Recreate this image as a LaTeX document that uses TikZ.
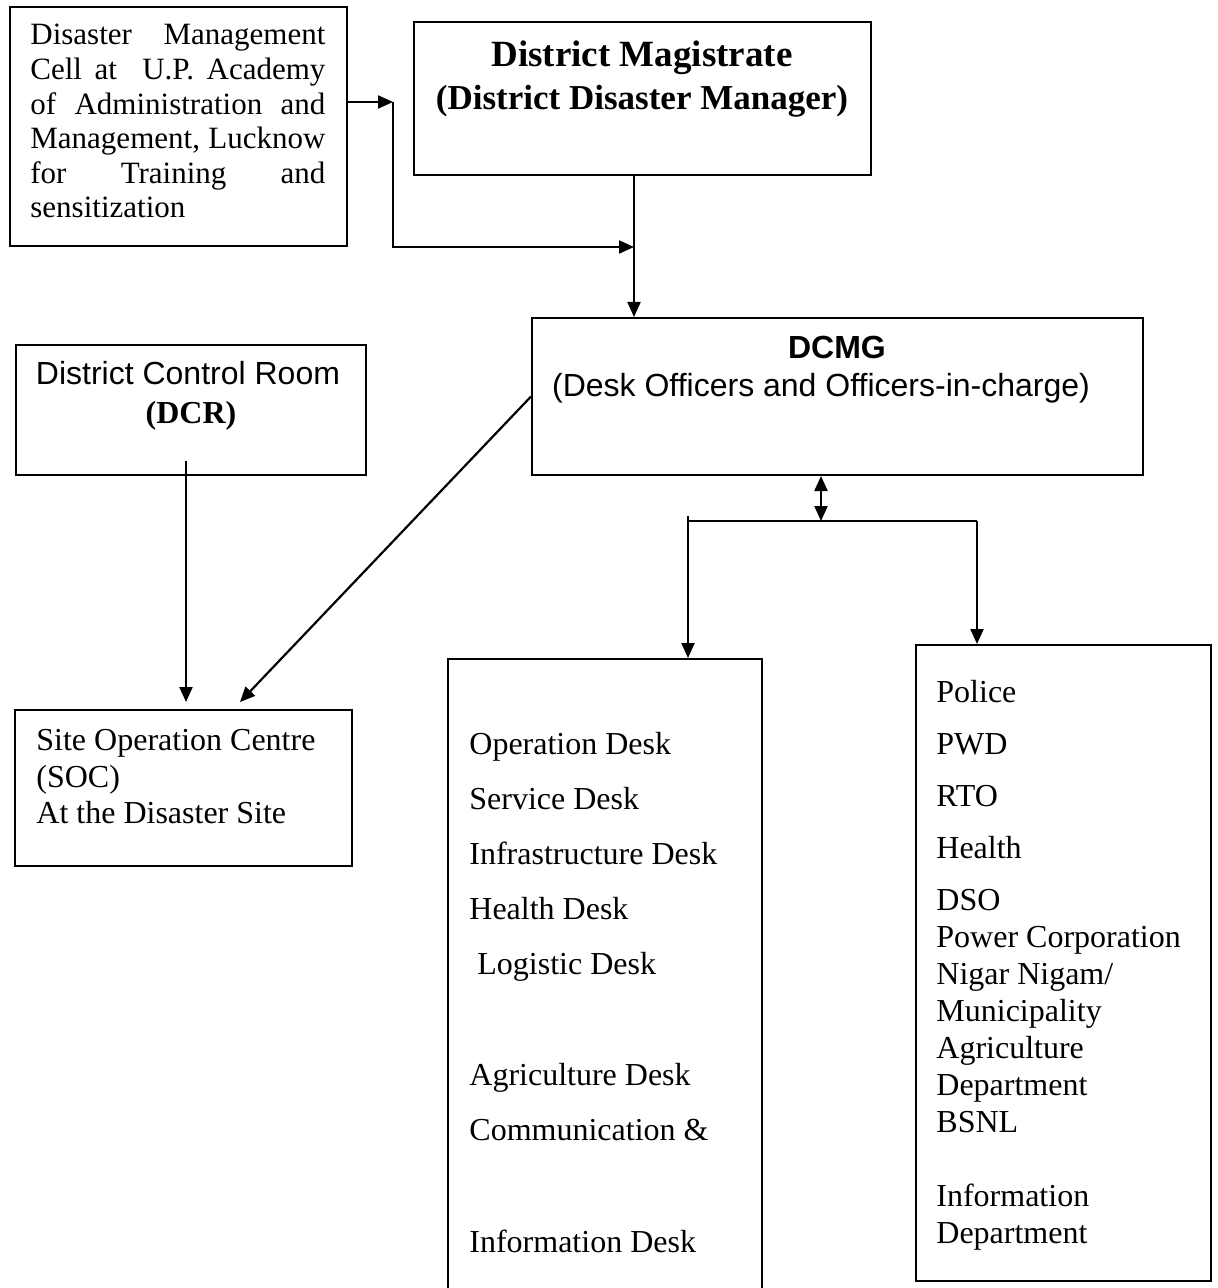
\documentclass[tikz,border=0pt]{standalone}
\usepackage{fontspec}
\setmainfont{Liberation Serif}
\setsansfont{Liberation Sans}
\usetikzlibrary{arrows.meta,fit}

\tikzset{
  box/.style={draw, line width=1pt, inner sep=0pt},
  txt/.style={anchor=base west, inner sep=0pt, font=\fontsize{16}{19}\selectfont},
  celltxt/.style={anchor=base west, inner sep=0pt, font=\fontsize{15.5}{18}\selectfont},
  mid/.style={anchor=base, inner sep=0pt},
  link/.style={line width=1.1pt, -{Triangle[length=7.5pt,width=6.5pt]}},
}

\begin{document}
\begin{tikzpicture}[x=0.5pt, y=-0.5pt]
\useasboundingbox (0,0) rectangle (1217,1288);

% boxes
\node[box, fit={(10,7) (347,246)}] (cell) {};
\node[box, fit={(414,22) (871,175)}] (dm) {};
\node[box, fit={(532,318) (1143,475)}] (dcmg) {};
\node[box, fit={(16,345) (366,475)}] (dcr) {};
\node[box, fit={(15,710) (352,866)}] (soc) {};
\node[box, fit={(448,659) (762,1300)}] (desks) {};
\node[box, fit={(916,645) (1211,1281)}] (depts) {};

% texts
\foreach \ln/\y [count=\i] in {Disaster Management/45, Cell at\ \ U.P. Academy/79.6,
    of Administration and/114.2, {Management, Lucknow}/148.8, for Training and/183.4}
  \node[celltxt] (cell\i) at (30,\y) {\makebox[147.5pt][s]{\ln}};
\node[celltxt] (cell6) at (30,218) {sensitization};

\node[mid, font=\fontsize{18.5}{21}\selectfont\bfseries] (dmname) at (642,67) {District Magistrate};
\node[mid, font=\fontsize{17.5}{21}\selectfont\bfseries] (dmrole) at (642,110) {(District Disaster Manager)};

\node[mid, font=\fontsize{16}{19}\selectfont\sffamily\bfseries] (dcmgname) at (837,359) {DCMG};
\node[mid, font=\fontsize{16}{19}\selectfont\sffamily] (dcmgrole) at (821,397) {(Desk Officers and Officers-in-charge)};

\node[mid, font=\fontsize{16}{19}\selectfont\sffamily] (dcrname) at (188,385) {District Control Room};
\node[mid, font=\fontsize{16}{19}\selectfont\bfseries] (dcrshort) at (191,423) {(DCR)};

\foreach \ln/\y [count=\i] in {Site Operation Centre/750, (SOC)/787, At the Disaster Site/823}
  \node[txt] (soc\i) at (36,\y) {\ln};

\foreach \ln/\y [count=\i] in {Operation Desk/754, Service Desk/809, Infrastructure Desk/864,
    Health Desk/919, {\ Logistic Desk}/974, Agriculture Desk/1085,
    Communication \&/1140, Information Desk/1252}
  \node[txt] (desk\i) at (469,\y) {\ln};

\foreach \ln/\y [count=\i] in {Police/702, PWD/754, RTO/806, Health/858, DSO/910,
    Power Corporation/947, {Nigar Nigam/}/984, Municipality/1021, Agriculture/1058,
    Department/1095, BSNL/1132, Information/1206, Department/1243}
  \node[txt] (dept\i) at (936,\y) {\ln};

% junctions
\coordinate (j1) at (393,102);
\coordinate (j2) at (393,247);
\coordinate (dmfoot) at (634,175);
\coordinate (dcrout) at (186,461);
\coordinate (socin1) at (186,702);
\coordinate (socin2) at (240,702);
\coordinate (hub) at (821,521);
\coordinate (busl) at (688,521);
\coordinate (busr) at (977,521);

% connectors
\draw[link] (cell.east |- j1) -- (j1);
\draw[link] (j1) -- (j2) -- (j2 -| dmfoot);
\draw[link] (dmfoot) -- (dmfoot |- dcmg.north);
\draw[link] (dcrout) -- (socin1);
\draw[link] (dcmg.west) -- (socin2);
\draw[link, {Triangle[length=7.5pt,width=6.5pt]}-{Triangle[length=7.5pt,width=6.5pt]}] (hub |- dcmg.south) -- (hub);
\draw[line width=1.1pt] (688,516) -- (busl) -- (busr);
\draw[link] (busl) -- (busl |- desks.north);
\draw[link] (busr) -- (busr |- depts.north);
\end{tikzpicture}
\end{document}
